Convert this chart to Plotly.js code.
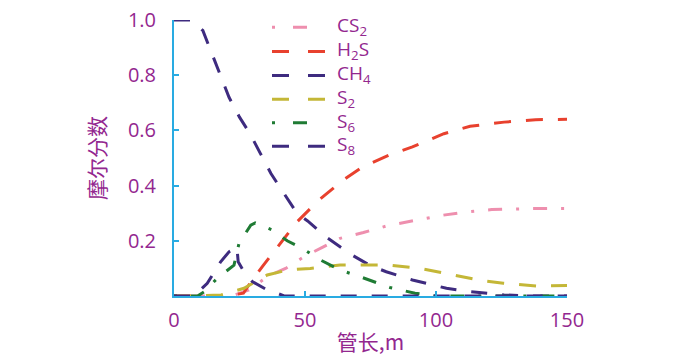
<!DOCTYPE html>
<html><head><meta charset="utf-8">
<script src="https://cdn.plot.ly/plotly-3.0.1.min.js"></script>
<style>html,body{margin:0;padding:0;background:#fff;}#chart{width:687px;height:356px;}</style>
</head><body><div id="chart"></div>
<script>
// ---- data ----
const seriesNames = ['CS<sub>2</sub>', 'H<sub>2</sub>S', 'CH<sub>4</sub>', 'S<sub>2</sub>', 'S<sub>6</sub>', 'S<sub>8</sub>'];

const cs2X = [0, 22, 28.6, 35.6, 42.6, 49.6, 57, 63.4, 72.3, 81.2, 92.6, 102.8, 111.7, 121.3, 137, 150];
const cs2Y = [0, 0, 0.022, 0.07, 0.1, 0.142, 0.178, 0.209, 0.23, 0.254, 0.275, 0.293, 0.305, 0.313, 0.317, 0.317];

const h2sX = [0, 20, 26.5, 29, 34, 40.5, 43, 47, 55, 64.6, 72, 82, 91, 103, 113, 126, 138, 150];
const h2sY = [0, 0, 0.01, 0.046, 0.11, 0.19, 0.22, 0.269, 0.345, 0.42, 0.468, 0.51, 0.54, 0.588, 0.615, 0.63, 0.639, 0.64];

const ch4X = [0, 6.5, 11, 17, 21, 25, 29, 33, 37, 42, 47, 51, 58, 68, 75, 81, 91, 104, 113, 126, 135, 150];
const ch4Y = [1, 1, 0.962, 0.817, 0.72, 0.648, 0.588, 0.516, 0.444, 0.371, 0.299, 0.272, 0.214, 0.148, 0.11, 0.088, 0.058, 0.028, 0.016, 0.004, 0, 0];

const s2X = [0, 8, 18, 26.7, 35.6, 43.2, 52, 63.4, 75, 82.4, 94, 106.6, 118, 125.7, 138.4, 150];
const s2Y = [0, 0, 0.004, 0.028, 0.076, 0.094, 0.1, 0.112, 0.112, 0.112, 0.1, 0.076, 0.055, 0.046, 0.036, 0.038];

const s6X = [0, 9, 11.5, 16.5, 22.9, 24.8, 29.3, 31, 37.5, 43.2, 49, 56, 63.4, 71, 82.4, 92, 100, 150];
const s6Y = [0, 0, 0.015, 0.064, 0.112, 0.19, 0.257, 0.265, 0.239, 0.2, 0.172, 0.13, 0.094, 0.07, 0.031, 0.01, 0, 0];

const s8X = [0, 7.6, 12.7, 17.8, 21, 24, 24.5, 26.7, 29.9, 35.6, 39.4, 42, 150];
const s8Y = [0, 0, 0.046, 0.124, 0.16, 0.178, 0.124, 0.088, 0.052, 0.022, 0.01, 0, 0];

const xTickVals = [0, 50, 100, 150];
const xTickText = ['0', '50', '100', '150'];
const yTickVals = [0.2, 0.4, 0.6, 0.8, 1.0];
const yTickText = ['0.2', '0.4', '0.6', '0.8', '1.0'];

// ---- styles ----
const colors = ['#ee8fae', '#e8412e', '#3e2b7f', '#c4b737', '#1f7b34', '#3e2b7f'];
const dashes = ['3px,14px,14px,14px', '17px,15px', '16px,15px', '17px,15px', '3px,14px,14px,14px', '16px,15px'];
const purple = '#93278f';
const axisBlue = '#29abe2';

const xs = [cs2X, h2sX, ch4X, s2X, s6X, s8X];
const ys = [cs2Y, h2sY, ch4Y, s2Y, s6Y, s8Y];

const traces = xs.map((x, i) => ({
  x: x, y: ys[i], type: 'scatter', mode: 'lines', name: seriesNames[i],
  line: {color: colors[i], width: 3, dash: dashes[i]}, showlegend: false
}));

// plot-area geometry (pixels)
const L = 174, R = 567, T = 19.5, B = 296;
const W = 687, H = 356;
const px = v => (v - L) / (R - L);
const py = v => (B - v) / (B - T);

// custom legend
const legRows = [26.7, 51, 75, 99, 122.5, 146];
const shapes = [];
const annotations = [];
legRows.forEach((r, i) => {
  shapes.push({type: 'line', xref: 'paper', yref: 'paper', x0: px(272), x1: px(325), y0: py(r), y1: py(r),
    line: {color: colors[i], width: 3, dash: (i === 0 || i === 4) ? '3px,18px,14px,18px' : '17px,19px'}});
  annotations.push({xref: 'paper', yref: 'paper', x: px(335), y: py(r - 1), xanchor: 'left', yanchor: 'middle',
    text: seriesNames[i], showarrow: false, font: {family: 'Open Sans, sans-serif', size: 19, color: purple}});
});

const layout = {
  width: W, height: H,
  margin: {l: L, r: W - R, t: T, b: H - B, pad: 0},
  paper_bgcolor: '#fff', plot_bgcolor: '#fff',
  showlegend: false,
  xaxis: {
    range: [0, 150], tickvals: xTickVals, ticktext: xTickText,
    ticks: 'inside', ticklen: 5, tickwidth: 2, tickcolor: axisBlue,
    showline: true, linecolor: axisBlue, linewidth: 2, mirror: false,
    showgrid: false, zeroline: false, ticklabelstandoff: 5,
    tickfont: {family: 'Open Sans, sans-serif', size: 20, color: purple},
    title: {text: '管长,m', font: {family: 'Noto Sans CJK SC', size: 21, color: purple}, standoff: 6}
  },
  yaxis: {
    range: [0, 1.0], tickvals: yTickVals, ticktext: yTickText,
    ticks: 'inside', ticklen: 5, tickwidth: 2, tickcolor: axisBlue,
    showline: true, linecolor: axisBlue, linewidth: 2, mirror: false,
    showgrid: false, zeroline: false, ticklabelstandoff: 12,
    tickfont: {family: 'Open Sans, sans-serif', size: 20, color: purple},
    title: {text: '摩尔分数', font: {family: 'Noto Sans CJK SC', size: 21, color: purple}, standoff: 17}
  },
  shapes: shapes,
  annotations: annotations
};

Plotly.newPlot('chart', traces, layout, {displayModeBar: false, staticPlot: true});
</script></body></html>
